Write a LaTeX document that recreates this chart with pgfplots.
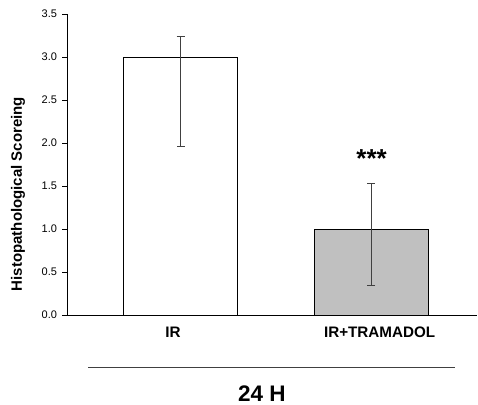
\documentclass[border=0pt]{standalone}
\usepackage{pgfplots}
\pgfplotsset{compat=1.18}
\usepackage{fontspec}
\setmainfont{Liberation Sans}
\definecolor{bargray}{HTML}{C0C0C0}
\definecolor{errgray}{HTML}{404040}
\begin{document}
\begin{tikzpicture}
\useasboundingbox (-67bp,-90bp) rectangle (411bp,315bp);
\begin{axis}[
  scale only axis,
  width=410bp, height=301bp,
  xmin=-0.596, xmax=1.556,
  ymin=0, ymax=3.5,
  axis x line=bottom, axis y line=left,
  axis line style={-, black, line width=0.9bp},
  xtick={-0.04,1.045},
  xticklabels={IR,IR+TRAMADOL},
  x tick style={draw=none},
  xticklabel style={font=\fontsize{15.2bp}{18bp}\selectfont\bfseries, yshift=-4bp},
  ytick={0,0.5,1,1.5,2,2.5,3,3.5},
  y tick style={black, line width=0.8bp},
  tick align=outside,
  major tick length=4.5bp,
  yticklabel style={font=\fontsize{11bp}{13bp}\selectfont, xshift=-2bp},
  /pgf/number format/assume math mode=true,
  /pgf/number format/.cd, fixed, fixed zerofill, precision=1, /tikz/.cd,
  ylabel={Histopathological Scoreing},
  ylabel style={font=\fontsize{15bp}{17bp}\selectfont\bfseries, at={(axis description cs:-0.1195,0.402)}, anchor=center},
  ybar, bar width=114bp, bar shift=0pt,
  clip=false,
]
\addplot[draw=black, fill=white, line width=0.9bp,
  error bars/.cd, y dir=both, y explicit,
  error bar style={errgray, line width=1bp},
  error mark options={errgray, rotate=90, mark size=4bp, line width=1bp}]
  coordinates {(0,3) += (0,0.236) -= (0,1.035)};
\addplot[draw=black, fill=bargray, line width=0.9bp,
  error bars/.cd, y dir=both, y explicit,
  error bar style={errgray, line width=1bp},
  error mark options={errgray, rotate=90, mark size=4bp, line width=1bp}]
  coordinates {(1,1) += (0,0.531) -= (0,0.66)};
\node[anchor=base, font=\fontsize{26bp}{30bp}\selectfont\bfseries] at (axis cs:1.003,1.71) {***};
\end{axis}
\draw[errgray, line width=0.9bp] (21bp,-52.7bp) -- (388bp,-52.7bp);
\node[anchor=base, inner sep=0pt, font=\fontsize{22.5bp}{26bp}\selectfont\bfseries] at (195bp,-86.5bp) {24 H};
\end{tikzpicture}
\end{document}
